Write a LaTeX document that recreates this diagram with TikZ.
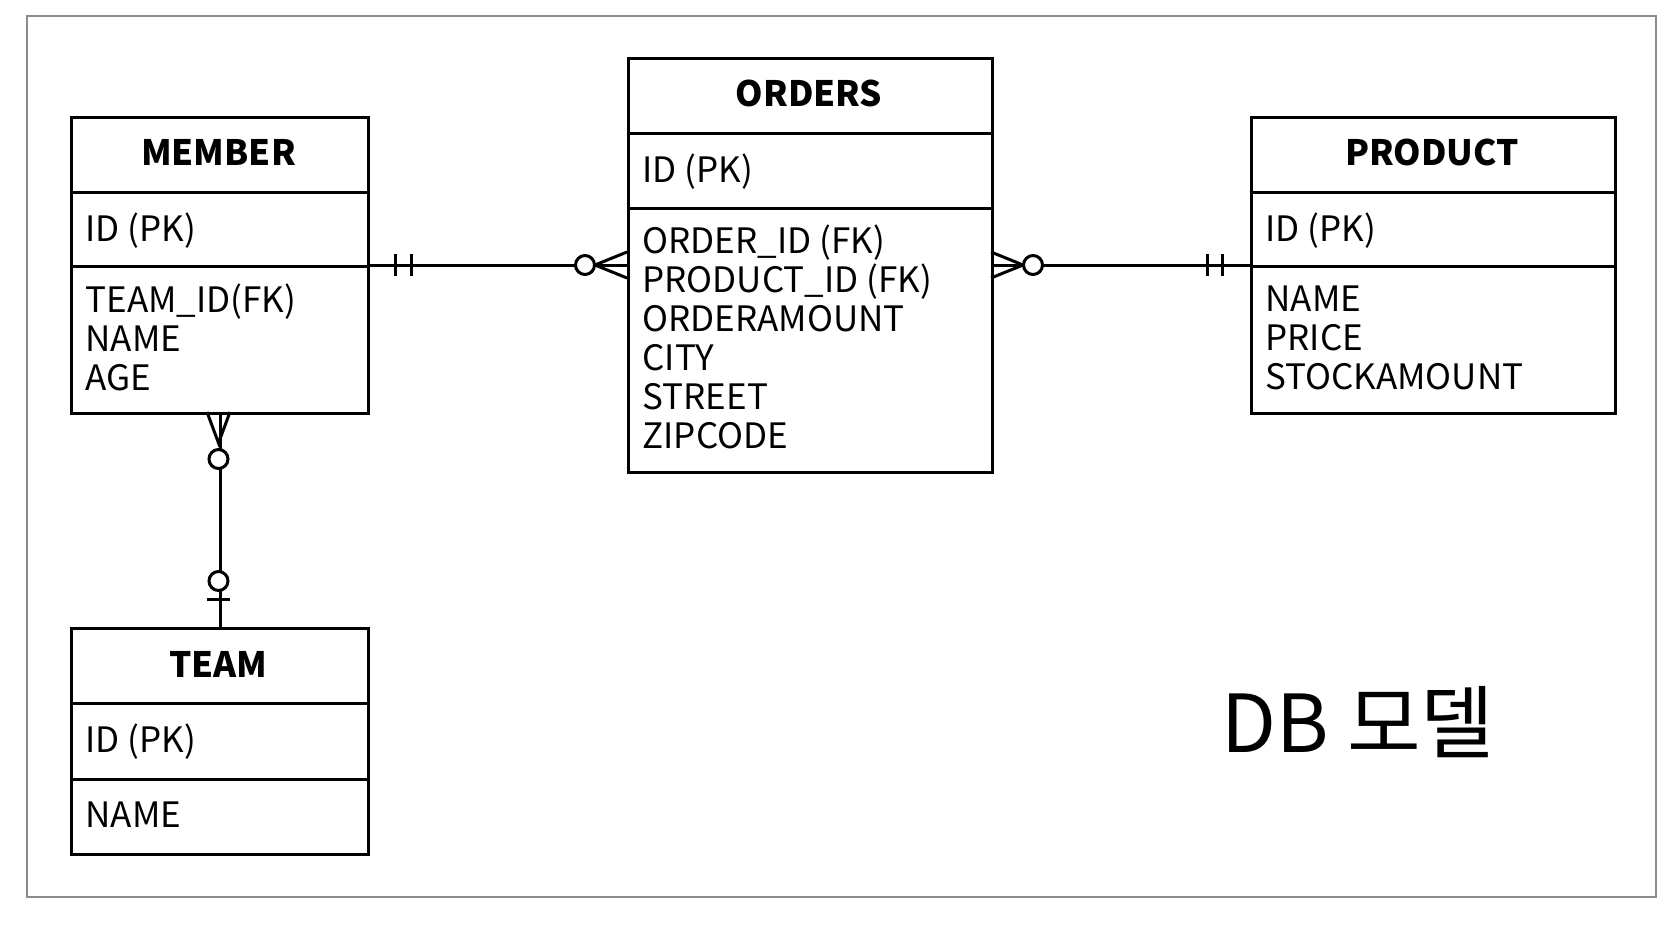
\documentclass[tikz,border=0pt]{standalone}
\usepackage{fontspec}
\setmainfont{Noto Sans CJK KR}
\usetikzlibrary{calc}

\newcommand{\cols}[1]{\vtop{\baselineskip=39pt\lineskiplimit=-100pt\halign{##\hfil\cr#1\crcr}}}

\tikzset{
	cell/.style={draw, anchor=north west, minimum width=#1, inner sep=0pt},
	title/.style={anchor=base, font=\fontsize{35}{39}\selectfont\bfseries},
	field/.style={anchor=base west, font=\fontsize{35}{39}\selectfont},
	frame/.style={draw=black!45, line width=2pt},
	ring/.style={fill=white}
}

\begin{document}
\begin{tikzpicture}[x=1pt, y=-1pt, line width=3pt, every node/.style={inner sep=0pt}]
				\useasboundingbox (0,0) rectangle (1680,932);
				\draw[frame] (27,16) rectangle (1656,897);

				\node[cell=297, minimum height=75] (memberT) at (70,116) {};
				\node[cell=297, minimum height=74] (memberK) at (70,191) {};
				\node[cell=297, minimum height=147] (memberF) at (70,265) {};
				\node[title] (memberName) at (218.5,165) {MEMBER};
				\node[field] (memberId) at (84,241) {ID (PK)};
				\node[field] (memberCols) at (84,312) {\cols{TEAM\_ID(FK)\cr NAME\cr AGE}};

				\node[cell=364, minimum height=75] (ordersT) at (627,57) {};
				\node[cell=364, minimum height=75] (ordersK) at (627,132) {};
				\node[cell=364, minimum height=264] (ordersF) at (627,207) {};
				\node[title] (ordersName) at (809,106) {ORDERS};
				\node[field] (ordersId) at (641,182) {ID (PK)};
				\node[field] (ordersCols) at (641,253) {\cols{ORDER\_ID (FK)\cr PRODUCT\_ID (FK)\cr ORDERAMOUNT\cr CITY\cr STREET\cr ZIPCODE}};

				\node[cell=364, minimum height=75] (productT) at (1250,116) {};
				\node[cell=364, minimum height=74] (productK) at (1250,191) {};
				\node[cell=364, minimum height=147] (productF) at (1250,265) {};
				\node[title] (productName) at (1432,165) {PRODUCT};
				\node[field] (productId) at (1264,241) {ID (PK)};
				\node[field] (productCols) at (1264,311) {\cols{NAME\cr PRICE\cr STOCKAMOUNT}};

				\node[cell=297, minimum height=75] (teamT) at (70,627) {};
				\node[cell=297, minimum height=76] (teamK) at (70,702) {};
				\node[cell=297, minimum height=75] (teamF) at (70,778) {};
				\node[title] (teamName) at (218.5,677) {TEAM};
				\node[field] (teamId) at (84,752) {ID (PK)};
				\node[field] (teamCols) at (84,827) {NAME};

				\node[anchor=base west, font=\fontsize{80}{90}\selectfont] (dbModel) at (1220,752) {DB 모델};

				\draw (memberF.north east) -- (memberF.north east -| ordersF.west);
				\draw (395,254) -- (395,276);
				\draw (411,254) -- (411,276);
				\draw (627,252) -- (595,265) -- (627,278);
				\draw[ring] (585,265) circle (9.5);

				\draw (ordersF.east |- productF.north) -- (productF.north west);
				\draw (991,252) -- (1023,265) -- (991,278);
				\draw[ring] (1033,265) circle (9.5);
				\draw (1207,254) -- (1207,276);
				\draw (1222,254) -- (1222,276);

				\draw (memberF.south) -- (teamT.north);
				\draw (207,412) -- (218.5,443) -- (230,412);
				\draw[ring] (218.5,459) circle (9.5);
				\draw[ring] (218.5,581) circle (9.5);
				\draw (207,599) -- (230,599);
\end{tikzpicture}
\end{document}
